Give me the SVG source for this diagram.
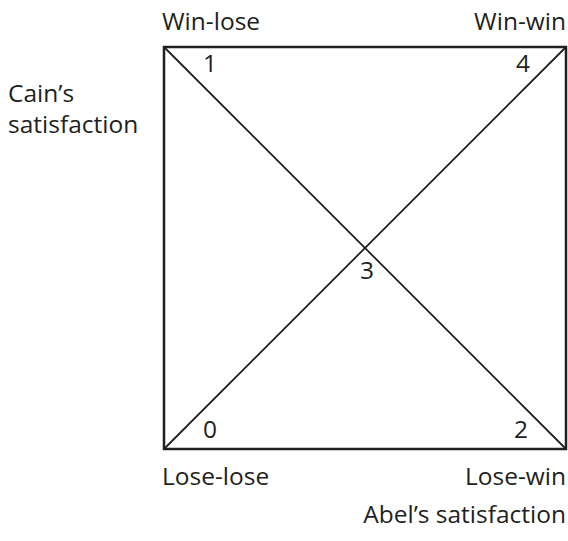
<svg xmlns="http://www.w3.org/2000/svg" width="568" height="541" viewBox="0 0 568 541">
<style>
text { font-family: "Open Sans", "Noto Sans", sans-serif; font-size: 24.5px; fill: #231f20; }
.end { text-anchor: end; }
.frame { fill: none; stroke: #231f20; stroke-width: 2.5; }
.diag { stroke: #231f20; stroke-width: 1.8; fill: none; }
</style>
<rect width="568" height="541" fill="#ffffff"/>
<g id="connectors">
<line class="diag" x1="164" y1="47" x2="566" y2="449"/>
<line class="diag" x1="164" y1="449" x2="566" y2="47"/>
</g>
<g id="frame"><rect class="frame" x="164" y="47" width="402" height="402"/></g>
<g id="win-lose"><text x="162" y="30">Win-lose</text></g>
<g id="win-win"><text class="end" x="566" y="30">Win-win</text></g>
<g id="lose-lose"><text x="162" y="485">Lose-lose</text></g>
<g id="lose-win"><text class="end" x="566" y="485">Lose-win</text></g>
<g id="abel"><text class="end" x="566" y="523">Abel’s satisfaction</text></g>
<g id="cain"><text x="8" y="102">Cain’s</text><text x="8" y="133">satisfaction</text></g>
<g id="n1"><text x="203" y="72">1</text></g>
<g id="n4"><text x="516" y="72">4</text></g>
<g id="n0"><text x="203" y="438">0</text></g>
<g id="n2"><text x="514" y="438">2</text></g>
<g id="n3"><text x="360" y="279">3</text></g>
</svg>
